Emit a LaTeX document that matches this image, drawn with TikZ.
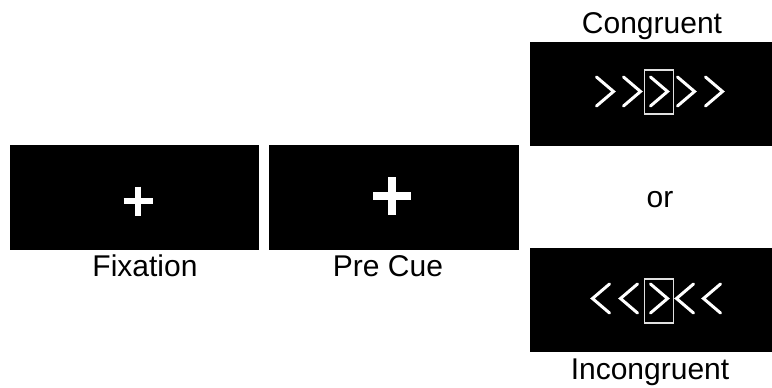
\documentclass[tikz,border=0pt]{standalone}
\usepackage{fontspec}
\setmainfont{Liberation Sans}
\usetikzlibrary{positioning}
\tikzset{
  % black display screen
  screen/.style={rectangle, fill=black, inner sep=0pt, minimum width=#1, minimum height=105pt},
  screen/.default={249pt},
  % caption under or over a screen
  caption/.style={font=\fontsize{30}{36}\selectfont, inner sep=0pt, anchor=base},
  % fixation cross arm
  crossarm/.style={white, line width=#1, line cap=butt},
  crossarm/.default={6pt},
  % flanker arrow
  chevron/.style={white, line width=3pt, line cap=round, line join=miter},
  % frame round the target arrow
  targetframe/.style={rectangle, draw=black!12, line width=1.5pt, inner sep=0pt,
                      minimum width=29pt, minimum height=44pt},
}
\begin{document}
\begin{tikzpicture}[x=1pt, y=-1pt]
  \useasboundingbox (0,0) rectangle (772,388);
  % screens
  \node[screen] (fix) at (134.5,197) {};
  \node[screen=250pt] (cue) at (394,197) {};
  \node[screen=242pt, minimum height=104pt] (cong) at (651,94) {};
  \node[screen=242pt, minimum height=104pt] (incong) at (651,300) {};
  % captions
  \node[caption] (fixlbl) at (145,276) {Fixation};
  \node[caption] (cuelbl) at (388,276) {Pre Cue};
  \node[caption] (conglbl) at (652,33) {Congruent};
  \node[caption] (orlbl) at (660,207) {or};
  \node[caption] (inconglbl) at (650,379) {Incongruent};
  % fixation crosses
  \draw[crossarm] (123.5,201) -- (152.5,201);
  \draw[crossarm] (138,186.5) -- (138,215.5);
  \draw[crossarm=8pt] (373,196) -- (411,196);
  \draw[crossarm=8pt] (392,177) -- (392,215);
  % congruent flankers
  \node[targetframe] (congtgt) at (659,92) {};
  \foreach \x in {605,632,659,686,714}
    \draw[chevron] (\x-8.5,77) -- (\x+8.5,91.5) -- (\x-8.5,106);
  % incongruent flankers
  \node[targetframe] (incongtgt) at (659,301) {};
  \foreach \x in {601,629,685,712}
    \draw[chevron] (\x+8.5,284) -- (\x-8.5,298.5) -- (\x+8.5,313);
  \draw[chevron] (659-8.5,284) -- (659+8.5,298.5) -- (659-8.5,313);
\end{tikzpicture}
\end{document}
